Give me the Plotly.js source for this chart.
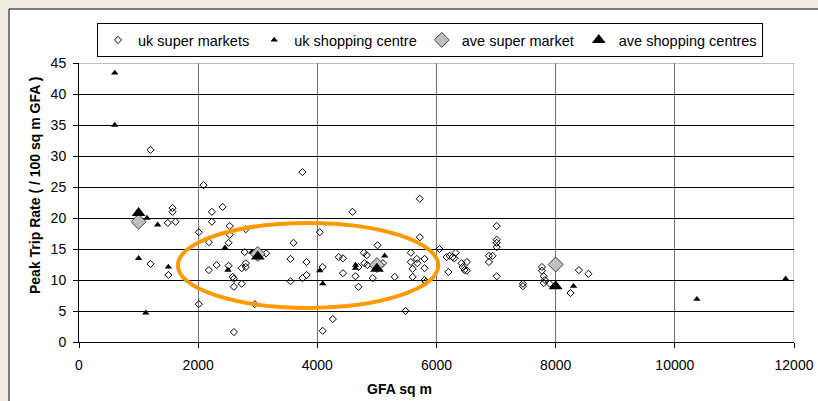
<!DOCTYPE html>
<html>
<head>
<meta charset="utf-8">
<script src="https://cdn.plot.ly/plotly-3.0.1.min.js"></script>
<style>
  html, body { margin: 0; padding: 0; background: #f3ece4; }
  #chart { width: 818px; height: 401px; }
</style>
</head>
<body>
<div id="chart"></div>
<script>
// UK super markets (GFA sq m, peak trip rate)
const ukSuperX = [1200, 2090, 1490, 1620, 1570, 1570, 1200, 1500, 2230, 2410, 2230, 2010, 2180, 2530, 2530, 2510,
  2180, 2310, 2510, 2580, 2600, 2600, 2730, 2780, 2800, 2730, 2800, 2010, 2600, 2800, 3140, 3750, 2950, 3550,
  3550, 3600, 3820, 3820, 3750, 4040, 4090, 4260, 4090, 4360, 5720, 4590, 5720, 5010, 4430, 4780, 4830, 4430,
  4690, 4640, 4690, 4790, 4840, 5100, 4930, 5300, 5570, 5570, 5600, 5600, 5670, 5680, 5800, 5800, 5800, 5820,
  5480, 6050, 6170, 6200, 6220, 6270, 6320, 6300, 6420, 6440, 6510, 6510, 6470, 7010, 7010, 7010, 7010, 6880,
  6940, 6880, 7010, 7450, 7450, 7770, 7770, 7800, 7820, 7800, 7900, 8250, 8390, 8550];
const ukSuperY = [31.0, 25.3, 19.2, 19.4, 21.6, 21.0, 12.6, 10.8, 21.0, 21.8, 19.4, 17.7, 16.1, 18.7, 17.3, 16.0,
  11.6, 12.4, 12.3, 10.5, 10.2, 8.9, 9.4, 14.5, 12.7, 11.9, 12.1, 6.1, 1.6, 18.2, 14.3, 27.4, 6.1, 13.4,
  9.8, 16.0, 12.9, 10.8, 10.3, 17.7, 12.1, 3.7, 1.8, 13.7, 23.1, 21.0, 16.9, 15.6, 13.5, 14.4, 14.0, 11.1,
  12.1, 10.6, 8.9, 12.7, 12.4, 12.7, 10.3, 10.5, 14.4, 12.9, 11.8, 10.5, 13.4, 12.7, 13.4, 11.9, 10.0, 9.7,
  5.0, 15.0, 13.7, 11.3, 13.9, 13.7, 14.4, 13.5, 12.7, 12.1, 12.9, 11.5, 11.6, 18.7, 16.5, 16.0, 15.3, 13.9,
  13.9, 12.9, 10.6, 9.4, 9.0, 12.1, 11.5, 10.6, 10.0, 9.5, 9.4, 7.9, 11.6, 11.0];

// UK shopping centres
const ukShopX = [600, 600, 1140, 1320, 1000, 1500, 1120, 2450, 2500, 2900, 4040, 4090, 5130, 4640, 4640, 8300, 10370, 11860];
const ukShopY = [43.4, 35.0, 20.0, 18.9, 13.5, 12.1, 4.7, 15.2, 11.6, 14.5, 11.5, 9.4, 13.9, 12.4, 11.9, 9.0, 6.9, 10.2];

// Averages
const aveSuperX = [1000, 3000, 5000, 8000];
const aveSuperY = [19.4, 14.2, 12.4, 12.5];
const aveShopX = [1000, 3000, 5000, 8000];
const aveShopY = [20.8, 13.8, 11.8, 9.0];

// Highlight ellipse bounds (data units)
const ellipseX = [1660, 6030];
const ellipseY = [5.5, 19.2];

const xTickVals = [0, 2000, 4000, 6000, 8000, 10000, 12000];
const yTickVals = [0, 5, 10, 15, 20, 25, 30, 35, 40, 45];

const FONT = 'Liberation Sans, Arial, sans-serif';

const traces = [
  { x: ukSuperX, y: ukSuperY, name: 'uk super markets', type: 'scatter', mode: 'markers',
    marker: { symbol: 'diamond-open', size: 5.5, color: '#000', line: { width: 1, color: '#000' } } },
  { x: ukShopX, y: ukShopY, name: 'uk shopping centre', type: 'scatter', mode: 'markers',
    marker: { symbol: 'triangle-up', size: 6.5, color: '#000' } },
  { x: aveSuperX, y: aveSuperY, name: 'ave super market', type: 'scatter', mode: 'markers',
    marker: { symbol: 'diamond', size: 11.5, color: '#c0c0c0', line: { width: 1, color: '#404040' } } },
  { x: aveShopX, y: aveShopY, name: 'ave shopping centres', type: 'scatter', mode: 'markers',
    marker: { symbol: 'triangle-up', size: 12, color: '#000' } }
];

const L = 79, R = 24, T = 63, B = 59, W = 818, H = 401;
const pw = W - L - R, ph = H - T - B;
const px = v => (v - L) / pw;
const py = v => (H - B - v) / ph;

const layout = {
  width: W, height: H,
  margin: { l: L, r: R, t: T, b: B, pad: 0 },
  paper_bgcolor: '#f3ece4',
  plot_bgcolor: '#ffffff',
  font: { family: FONT, size: 14, color: '#000' },
  showlegend: true,
  legend: {
    orientation: 'h', x: px(430), xanchor: 'center', y: py(23), yanchor: 'top',
    bgcolor: '#ffffff', bordercolor: '#000', borderwidth: 1,
    font: { family: FONT, size: 14.5, color: '#000' },
    itemwidth: 30, tracegroupgap: 0
  },
  xaxis: {
    range: [0, 12000], tickvals: xTickVals, ticktext: xTickVals.map(String),
    showgrid: true, gridcolor: '#707070', gridwidth: 1,
    zeroline: false, showline: true, linecolor: '#000', linewidth: 1,
    ticks: 'outside', ticklen: 5, tickcolor: '#000',
    tickfont: { family: FONT, size: 14, color: '#000' }, ticklabelstandoff: 5,
    fixedrange: true
  },
  yaxis: {
    range: [0, 45], tickvals: yTickVals, ticktext: yTickVals.map(String),
    showgrid: true, gridcolor: '#000', gridwidth: 1,
    zeroline: false, showline: true, linecolor: '#000', linewidth: 1,
    ticks: 'outside', ticklen: 5, tickcolor: '#000',
    tickfont: { family: FONT, size: 14, color: '#000' }, ticklabelstandoff: 4,
    fixedrange: true
  },
  shapes: [
    { type: 'rect', xref: 'paper', yref: 'paper', x0: px(9), x1: 1.2, y0: -0.4, y1: py(9),
      fillcolor: '#ffffff', line: { color: '#000', width: 1 }, layer: 'below' },
    { type: 'line', xref: 'x', yref: 'y', x0: 12000, x1: 12000, y0: 0, y1: 45,
      line: { color: '#a0a0a0', width: 1 }, layer: 'below' },
    { type: 'line', xref: 'x', yref: 'y', x0: 0, x1: 12000, y0: 45, y1: 45,
      line: { color: '#808080', width: 1 }, layer: 'below' },
    { type: 'circle', xref: 'x', yref: 'y', x0: ellipseX[0], x1: ellipseX[1], y0: ellipseY[0], y1: ellipseY[1],
      line: { color: '#ff9900', width: 4 }, fillcolor: 'rgba(0,0,0,0)', layer: 'above' }
  ],
  annotations: [
    { text: '<b>Peak Trip Rate ( / 100 sq m GFA )</b>', xref: 'paper', yref: 'paper',
      x: px(35), y: py(186), xanchor: 'center', yanchor: 'middle', textangle: -90,
      showarrow: false, font: { family: FONT, size: 14, color: '#000' } },
    { text: '<b>GFA sq m</b>', xref: 'paper', yref: 'paper',
      x: px(399), y: py(389), xanchor: 'center', yanchor: 'middle',
      showarrow: false, font: { family: FONT, size: 14, color: '#000' } }
  ]
};

Plotly.newPlot('chart', traces, layout, { displayModeBar: false, staticPlot: true });
</script>
</body>
</html>
